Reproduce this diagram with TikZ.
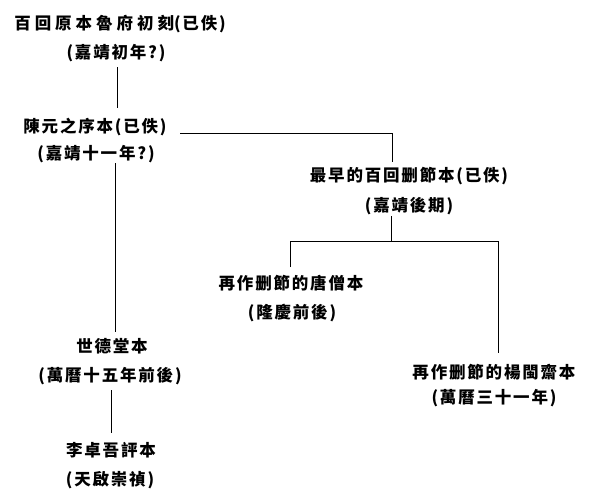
\documentclass[tikz,border=0pt]{standalone}
\usepackage{fontspec}
\newfontfamily\cjk[LetterSpace=11]{Noto Sans CJK TC}
\newfontfamily\cjkwide[LetterSpace=24]{Noto Sans CJK TC}
\begin{document}
\begin{tikzpicture}[x=1pt,y=-1pt,
  lbl/.style={inner sep=0pt, text height=14pt, text depth=2pt, font=\cjk\fontsize{16.5}{16.5}\selectfont\bfseries},
  link/.style={line width=0.9pt, black}]
\useasboundingbox (0,0) rectangle (600,496);
\fill[white] (0,0) rectangle (600,496);
% nodes
\node[lbl] (a1) at (120,23) {{\cjkwide\bfseries 百回原本魯府初刻}(已佚)};
\node[lbl] (a2) at (116,52) {(嘉靖初年?)};
\node[lbl] (b1) at (95,126) {陳元之序本(已佚)};
\node[lbl] (b2) at (96,153) {(嘉靖十一年?)};
\node[lbl] (c1) at (409,175) {最早的百回删節本(已佚)};
\node[lbl] (c2) at (409,205) {(嘉靖後期)};
\node[lbl] (d1) at (291,283) {再作删節的唐僧本};
\node[lbl] (d2) at (292,312) {(隆慶前後)};
\node[lbl] (e1) at (494,372) {再作删節的楊閩齋本};
\node[lbl] (e2) at (494,397) {(萬曆三十一年)};
\node[lbl] (f1) at (112,346) {世德堂本};
\node[lbl] (f2) at (110,375) {(萬曆十五年前後)};
\node[lbl] (g1) at (111,450) {李卓吾評本};
\node[lbl] (g2) at (110,479) {(天啟崇禎)};
% connector ends
\coordinate (aS) at (117,67);
\coordinate (bN) at (117,108);
\coordinate (bE) at (180,133);
\coordinate (cN) at (392,162);
\coordinate (cS) at (391,216);
\coordinate (jn) at (391,241);
\coordinate (dN) at (290,267);
\coordinate (eN) at (498,353);
\coordinate (bS) at (115,163);
\coordinate (fN) at (115,332);
\coordinate (fS) at (111,390);
\coordinate (gN) at (111,433);
% connectors
\draw[link] (aS) -- (bN);
\draw[link] (bE) -| (cN);
\draw[link] (cS) -- (jn);
\draw[link] (dN) |- (jn);
\draw[link] (jn) -| (eN);
\draw[link] (bS) -- (fN);
\draw[link] (fS) -- (gN);
\end{tikzpicture}
\end{document}
